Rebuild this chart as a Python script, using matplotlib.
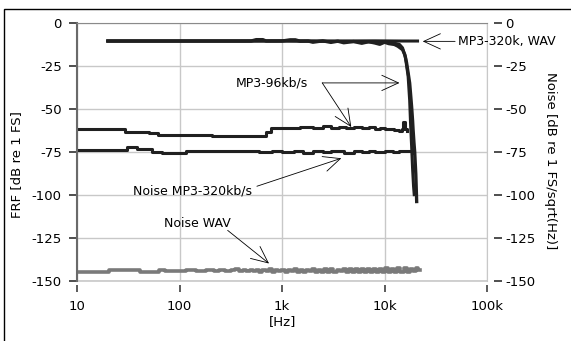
import matplotlib
matplotlib.use('Agg')
import matplotlib.pyplot as plt
from matplotlib.patches import Rectangle

# FRF curves (left axis)
frf_wav_f = [20, 100, 400, 1000, 3000, 8000, 15000, 21000]
frf_wav_db = [-10.5, -10.5, -10.5, -10.4, -10.5, -10.4, -10.5, -10.5]

frf_320_f = [20, 500, 560, 650, 700, 1000, 1200, 1350, 1500, 1800, 2000, 2500, 3000, 3500, 4000,
             5000, 6000, 7000, 8000, 9000, 10000, 11000, 12500, 13500, 15000, 15800, 16400,
             17000, 17600, 18000, 18400, 18800, 19000, 19400, 19700, 20200, 20600]
frf_320_db = [-10.5, -10.5, -9.7, -9.7, -10.5, -10.5, -9.8, -9.8, -10.6, -10.5, -11.2, -10.4,
              -11.3, -10.6, -11.5, -10.8, -11.8, -10.9, -11.6, -12.4, -11.2, -12.0, -12.5,
              -13.5, -15.5, -18.5, -23, -29, -35, -42, -49, -57, -62, -70, -75, -88, -104]

frf_96_f = [20, 1000, 5000, 10000, 12000, 14000, 15000, 16000, 17000, 17600, 18000, 18400,
            18800, 19200, 19500]
frf_96_db = [-10.5, -10.5, -10.8, -11.2, -11.5, -12.5, -14.5, -20, -31, -45, -60, -72, -85,
             -95, -100]

# Noise curves (right axis)
noise_96_f = [10, 29, 29.5, 50, 62, 109, 206, 620, 700, 780, 1170, 1500, 2000, 2500, 3000,
              3600, 4200, 5000, 6000, 7000, 8000, 9000, 10000, 11200, 12500, 14000, 14800,
              15300, 15700, 16000, 16500]
noise_96_db = [-61.8, -61.8, -63.3, -64, -65.5, -65, -66, -66, -63.5, -61.2, -61, -60.5, -61,
               -60.2, -61, -60.3, -61.2, -60.4, -61.3, -60.6, -61.5, -61, -62, -61.8, -62.5,
               -63, -62, -57.5, -60, -62, -63]

noise_320_f = [10, 30, 30.5, 38, 38.5, 53, 54, 66, 67, 115, 116, 300, 600, 800, 1000, 1300,
               1600, 2000, 2500, 3000, 4000, 5000, 6000, 7000, 8000, 10000, 12000, 14000,
               16000, 18000, 18400]
noise_320_db = [-74, -74, -72, -72, -73.3, -73.3, -75, -75, -75.6, -75.6, -74.6, -74.6, -75.4,
                -74.6, -75.3, -74.6, -75.5, -74.6, -75.3, -74.6, -75.5, -74.7, -75.3, -74.6,
                -75.4, -74.6, -75.3, -74.8, -74.6, -74.6, -76]

noise_wav_f = [10, 20, 21, 40, 42, 60, 65, 80, 100, 130, 160, 200, 230, 260, 300, 330, 360,
               400, 430, 470, 500, 540, 580, 620, 670, 720, 770, 830, 890, 950, 1020, 1100,
               1180, 1260, 1350, 1450, 1550, 1660, 1780, 1900, 2040, 2180, 2340, 2500, 2680,
               2870, 3070, 3290, 3520, 3770, 4040, 4320, 4630, 4960, 5310, 5690, 6090, 6520,
               6980, 7480, 8010, 8580, 9190, 9840, 10500, 11300, 12100, 12900, 13800, 14800,
               15900, 17000, 18200, 19500, 20900, 22000]
noise_wav_db = [-144.8, -144.8, -144.0, -144.0, -144.9, -144.9, -144.0, -144.3, -144.6, -143.8,
                -144.5, -144.1, -144.3, -143.7, -144.4, -144.0, -143.5, -144.5, -143.9, -144.6,
                -143.6, -144.4, -143.7, -144.8, -143.9, -144.3, -143.5, -144.9, -143.8, -144.4,
                -143.6, -145.0, -143.7, -144.5, -143.4, -144.9, -143.6, -145.1, -143.8, -144.6,
                -143.4, -145.2, -143.6, -144.8, -143.3, -145.0, -143.5, -145.2, -143.7, -144.7,
                -143.3, -145.1, -143.5, -145.3, -143.4, -144.9, -143.2, -145.2, -143.5, -145.0,
                -143.1, -145.3, -143.4, -145.1, -143.0, -144.9, -143.2, -145.2, -143.0, -144.8,
                -142.9, -144.9, -143.1, -144.6, -142.8, -143.6]

x_ticks = [10, 100, 1000, 10000, 100000]
x_labels = ['10', '100', '1k', '10k', '100k']
y_ticks = [0, -25, -50, -75, -100, -125, -150]
y_labels = ['0', '-25', '-50', '-75', '-100', '-125', '-150']

W, H = 571, 341
fig = plt.figure(figsize=(W / 100, H / 100), dpi=100)
plt.rcParams['font.family'] = ['DejaVu Sans']
fig.patches.append(Rectangle((4 / W, -0.1), 1.2, 1 - 9 / H + 0.1, transform=fig.transFigure,
                             fill=False, edgecolor='black', linewidth=1))

ax = fig.add_axes([77 / W, 1 - 280.5 / H, 410 / W, 257.5 / H])
ax.set_xscale('log')
ax.set_xlim(10, 100000)
ax.set_ylim(-150, 0)

ax.grid(True, which='major', color='#c8c8c8', linewidth=1)
ax.set_axisbelow(True)

dark = '#202020'
ax.plot(noise_wav_f, noise_wav_db, color='#7a7a7a', linewidth=2.6, drawstyle='steps-mid')
ax.plot(noise_320_f, noise_320_db, color=dark, linewidth=2.2, drawstyle='steps-post')
ax.plot(noise_96_f, noise_96_db, color=dark, linewidth=2.2, drawstyle='steps-post')
ax.plot(frf_wav_f, frf_wav_db, color=dark, linewidth=2.2)
ax.plot(frf_96_f, frf_96_db, color=dark, linewidth=2.2)
ax.plot(frf_320_f, frf_320_db, color=dark, linewidth=2.4)
ax.axhline(-150, color='#c8c8c8', linewidth=1.2, clip_on=False)

# spines
ax.spines['left'].set_color('#6a6a6a')
ax.spines['left'].set_linewidth(1.5)
ax.spines['top'].set_color('#8a8a8a')
ax.spines['right'].set_color('#c8c8c8')
ax.spines['bottom'].set_position(('outward', 3))
ax.spines['bottom'].set_visible(False)

ax.set_xticks(x_ticks)
ax.set_xticklabels(x_labels)
ax.xaxis.set_minor_locator(matplotlib.ticker.NullLocator())
ax.set_yticks(y_ticks)
ax.set_yticklabels(y_labels)
ax.tick_params(axis='x', length=5, width=1.2, color='#404040', pad=6, labelsize=9.5)
ax.tick_params(axis='y', length=6, width=1.3, color='#404040', pad=5, labelsize=9.5)

ax2 = ax.twinx()
ax2.set_ylim(-150, 0)
ax2.set_yticks(y_ticks)
ax2.set_yticklabels(y_labels)
for s in ax2.spines.values():
    s.set_visible(False)
ax2.spines['right'].set_position(('outward', 5))
ax2.tick_params(axis='y', length=6, width=1.3, color='#404040', pad=2, labelsize=9.5)

fig.text(283 / W, 1 - 322 / H, '[Hz]', ha='center', va='center', fontsize=9.5)
fig.text(17 / W, 1 - 165 / H, 'FRF [dB re 1 FS]', ha='center', va='center', rotation=90,
         fontsize=9.5)
fig.text(550 / W, 1 - 161 / H, 'Noise [dB re 1 FS/sqrt(Hz)]', ha='center', va='center',
         rotation=270, fontsize=9.5)

# annotations
arrow = dict(arrowstyle='->,head_length=1.2,head_width=0.55', color='black', linewidth=0.6,
             shrinkA=0, shrinkB=0, mutation_scale=10)
ax.annotate('MP3-320k, WAV', xy=(23600, -10.7), xytext=(52000, -10.7), fontsize=9,
            ha='left', va='center', arrowprops=dict(arrow, relpos=(0, 0.5)),
            annotation_clip=False)

ax.text(800, -34.9, 'MP3-96kb/s', fontsize=9, ha='center', va='center')
ax.annotate('', xy=(14000, -34.9), xytext=(2470, -34.9), arrowprops=arrow)
ax.annotate('', xy=(4740, -60.6), xytext=(2470, -34.9), arrowprops=arrow)

ax.text(133, -97.8, 'Noise MP3-320kb/s', fontsize=9, ha='center', va='center')
ax.annotate('', xy=(3790, -78.8), xytext=(569, -95.1), arrowprops=arrow)

ax.text(150, -116.7, 'Noise WAV', fontsize=9, ha='center', va='center')
ax.annotate('', xy=(747, -140.1), xytext=(295, -120.8), arrowprops=arrow)

plt.savefig('out.png', dpi=100)
plt.close()
